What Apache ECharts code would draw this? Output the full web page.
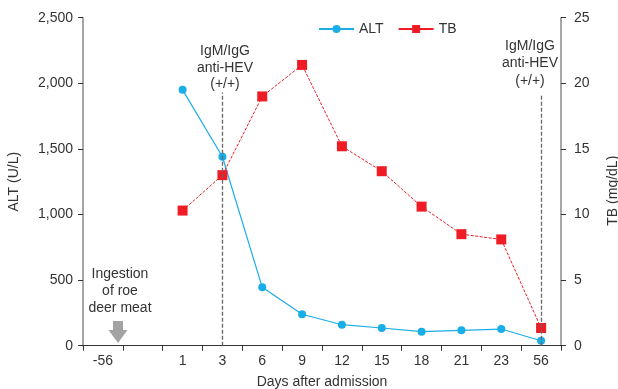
<!DOCTYPE html>
<html>
<head>
<meta charset="utf-8">
<script src="https://cdn.jsdelivr.net/npm/echarts@6/dist/echarts.min.js"></script>
<style>html,body{margin:0;padding:0;background:#fff}#c{width:618px;height:389px}</style>
</head>
<body>
<div id="c"></div>
<script>
const categories = ['-56', '', '1', '3', '6', '9', '12', '15', '18', '21', '23', '56'];
const altValues = [null, null, 1950, 1440, 445, 240, 160, 135, 107, 117, 127, 38];
const tbValues = [null, null, 10.3, 13.0, 19.0, 21.4, 15.2, 13.3, 10.6, 8.5, 8.1, 1.35];
const altTicks = { min: 0, max: 2500, interval: 500 };
const tbTicks = { min: 0, max: 25, interval: 5 };
const antibodyDays = ['3', '56'];
const antibodyLineTop = [1930, 1905];

const FONT = 'Liberation Sans, Arial, sans-serif';
const FS = 14;
const TXT = '#333';
const BLUE = '#1aaee8';
const RED = '#ee1c25';

const chart = echarts.init(document.getElementById('c'), null, { renderer: 'canvas' });
chart.setOption({
  animation: false,
  textStyle: { fontFamily: FONT },
  grid: { left: 83, right: 57, top: 17.7, bottom: 43.3, containLabel: false, outerBoundsMode: 'none' },
  legend: {
    left: 313, top: 17, itemWidth: 35, itemHeight: 10, itemGap: 14,
    textStyle: { fontFamily: FONT, fontSize: FS, color: TXT },
    data: [
      { name: 'ALT' },
      { name: 'TB', lineStyle: { type: 'solid' } }
    ]
  },
  xAxis: {
    type: 'category', data: categories, boundaryGap: true,
    name: 'Days after admission', nameLocation: 'middle', nameGap: 29.5,
    nameTextStyle: { fontFamily: FONT, fontSize: FS, color: TXT },
    axisLine: { lineStyle: { color: '#333', width: 1 } },
    axisTick: { show: true, length: 5, alignWithLabel: false, lineStyle: { color: '#333' } },
    axisLabel: { margin: 8, fontFamily: FONT, fontSize: FS, color: TXT, interval: 0 },
    splitLine: { show: false }
  },
  yAxis: [
    {
      type: 'value', min: altTicks.min, max: altTicks.max, interval: altTicks.interval,
      name: 'ALT (U/L)', nameLocation: 'middle', nameRotate: 90, nameGap: 62,
      nameTextStyle: { fontFamily: FONT, fontSize: FS, color: TXT },
      axisLine: { show: true, lineStyle: { color: '#888', width: 1.5 } },
      axisTick: { show: true, length: 5, lineStyle: { color: '#333' } },
      axisLabel: { margin: 10, fontFamily: FONT, fontSize: FS, color: TXT,
        formatter: v => v.toLocaleString('en-US') },
      splitLine: { show: false }
    },
    {
      type: 'value', min: tbTicks.min, max: tbTicks.max, interval: tbTicks.interval,
      position: 'right',
      name: 'TB (mg/dL)', nameLocation: 'middle', nameRotate: 90, nameGap: 45,
      nameTextStyle: { fontFamily: FONT, fontSize: FS, color: TXT, padding: [0, 18, 0, 0] },
      axisLine: { show: true, lineStyle: { color: '#888', width: 1.5 } },
      axisTick: { show: true, length: 5, lineStyle: { color: '#333' } },
      axisLabel: { margin: 13, fontFamily: FONT, fontSize: FS, color: TXT },
      splitLine: { show: false }
    }
  ],
  series: [
    {
      name: 'ALT', type: 'line', yAxisIndex: 0, data: altValues,
      symbol: 'circle', symbolSize: 8, connectNulls: false,
      itemStyle: { color: BLUE }, lineStyle: { color: BLUE, width: 1.2 },
      markLine: {
        silent: true, symbol: 'none', label: { show: false },
        lineStyle: { color: '#666', type: [4, 2], width: 1.3 },
        data: antibodyDays.map((d, i) => [{ coord: [d, 0] }, { coord: [d, antibodyLineTop[i]] }])
      },
      z: 3
    },
    {
      name: 'TB', type: 'line', yAxisIndex: 1, data: tbValues,
      symbol: 'rect', symbolSize: 10,
      itemStyle: { color: RED }, lineStyle: { color: RED, width: 1, type: [3, 1.5] },
      z: 4
    }
  ],
  graphic: [
    { type: 'text', x: 225, y: 43, style: { text: 'IgM/IgG\nanti-HEV\n(+/+)', align: 'center', verticalAlign: 'top',
      font: FS + 'px ' + FONT, fill: TXT, lineHeight: 16.5 } },
    { type: 'text', x: 530, y: 37, style: { text: 'IgM/IgG\nanti-HEV\n(+/+)', align: 'center', verticalAlign: 'top',
      font: FS + 'px ' + FONT, fill: TXT, lineHeight: 17.5 } },
    { type: 'text', x: 120, y: 266, style: { text: 'Ingestion\nof roe\ndeer meat', align: 'center', verticalAlign: 'top',
      font: FS + 'px ' + FONT, fill: TXT, lineHeight: 17 } },
    { type: 'polygon', shape: { points: [[113, 321], [123, 321], [123, 330], [127.5, 330], [118, 343], [108.5, 330], [113, 330]] },
      style: { fill: '#a3a3a3' } }
  ]
});
</script>
</body>
</html>
